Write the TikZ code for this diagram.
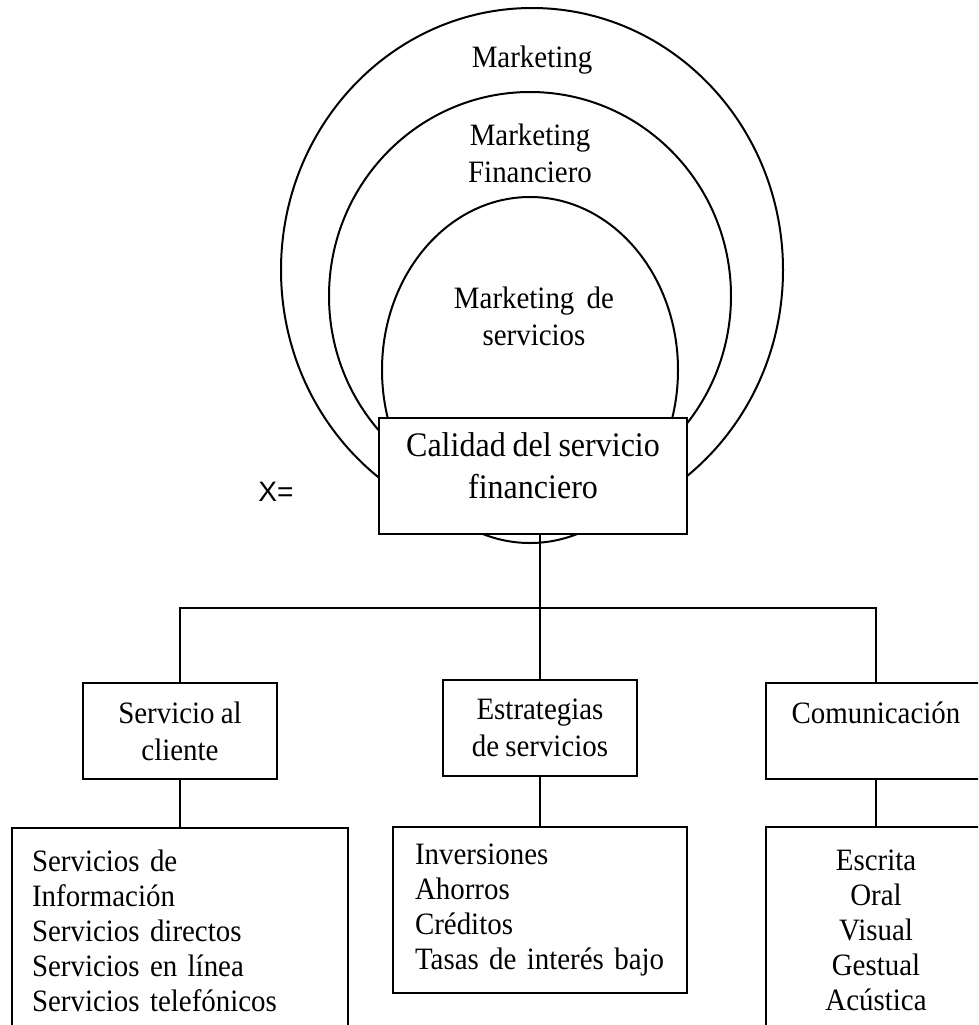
\documentclass[tikz,border=0pt]{standalone}
\usepackage{fontspec}
\setmainfont{Liberation Serif}[FakeStretch=0.93,WordSpace=0.85]
\newfontfamily\arialfont{Liberation Sans}

\begin{document}
\begin{tikzpicture}[x=0.02cm,y=-0.02cm,line width=0.04cm]
	\tikzstyle{etiq}=[align=center,inner sep=0pt,font=\fontsize{17.7}{21}\selectfont];
	\tikzstyle{caja}=[draw,fill=white,align=center,inner sep=0pt,font=\fontsize{17.7}{21}\selectfont];
	\tikzstyle{lista}=[draw,fill=white,anchor=north,inner ysep=0pt,font=\fontsize{17.7}{19.9}\selectfont];
	\useasboundingbox (0,0) rectangle (978,1025);
	\clip (0,0) rectangle (978,1025);
	%% Circles
	\draw (532,270) ellipse [x radius=251,y radius=262];
	\draw (530,296) ellipse [x radius=201,y radius=204];
	\draw (530,370) ellipse [x radius=148,y radius=173];
	\node[etiq] (mkt)  at (532,60)    {Marketing};
	\node[etiq] (mktf) at (530,153)   {Marketing\\Financiero};
	\node[etiq] (mkts) at (534,316.5) {Marketing~ de\\servicios};
	%% Center
	\node[caja,minimum width=6.16cm,minimum height=2.32cm,
		font=\fontsize{19.6}{23.8}\selectfont] (calidad) at (533,476)
		{\raisebox{0pt}[\height][\dimexpr\depth+8pt\relax]{%
			\begin{tabular}{@{}c@{}}Calidad del servicio\\financiero\end{tabular}}};
	\node[font=\arialfont\fontsize{16}{19}\selectfont] (xeq) at (276,492) {X=};
	%% Branches
	\node[caja,minimum width=3.88cm,minimum height=1.92cm] (servicio) at (180,731) {Servicio al\\cliente};
	\node[caja,minimum width=3.88cm,minimum height=1.92cm] (estrat)   at (540,728) {Estrategias\\de servicios};
	\node[caja,minimum width=4.4cm,minimum height=1.92cm]  (comunic)  at (876,731) {Comunicación\\\mbox{}};
	\coordinate (bus) at (540,608);
	\draw (calidad.south -| bus) -- (estrat.north);
	\draw (servicio.north) |- (bus) -| (comunic.north);
	%% Lists
	\node[lista,align=left,text width=5.92cm,inner xsep=0.4cm,minimum height=4.12cm] (servlist) at (180,827)
		{Servicios de\\Información\\Servicios directos\\Servicios en línea\\Servicios telefónicos};
	\node[lista,align=left,text width=5cm,inner xsep=0.44cm,minimum height=3.32cm] (estrlist) at (540,826)
		{Inversiones\\Ahorros\\Créditos\\Tasas de interés bajo};
	\node[lista,align=center,text width=4.4cm,inner xsep=0pt,minimum height=4.12cm] (comulist) at (876,826)
		{Escrita\\Oral\\Visual\\Gestual\\Acústica};
	\draw (servicio.south) -- (servlist.north);
	\draw (estrat.south) -- (estrlist.north);
	\draw (comunic.south) -- (comulist.north);
\end{tikzpicture}
\end{document}
